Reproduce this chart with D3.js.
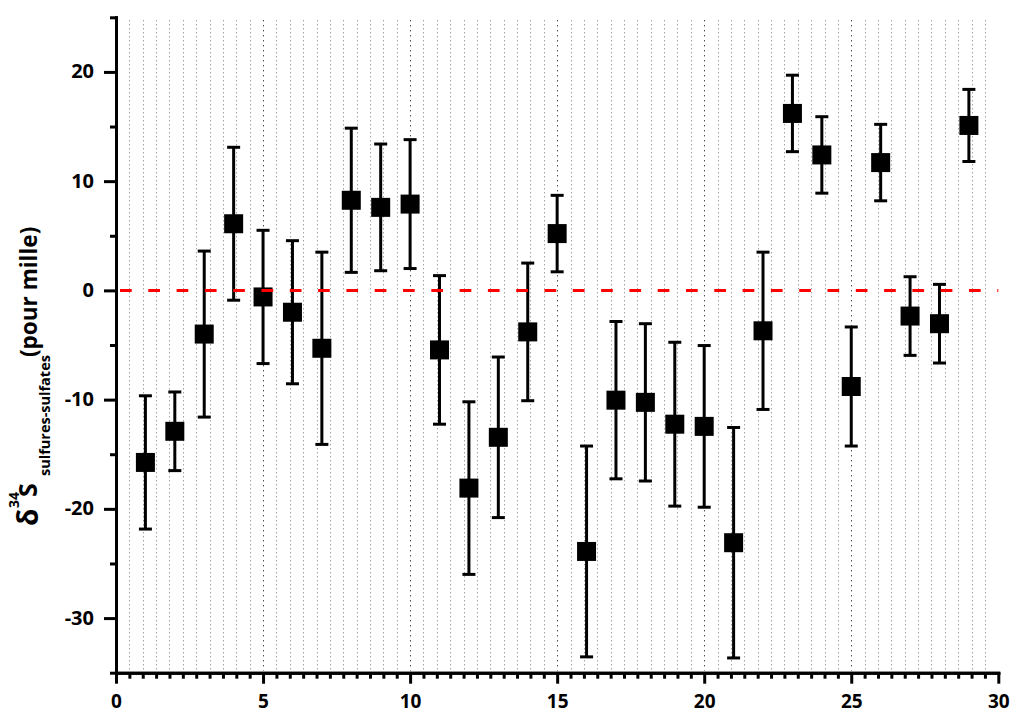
<!DOCTYPE html>
<html>
<head>
<meta charset="utf-8">
<script src="https://cdn.jsdelivr.net/npm/d3@7"></script>
<style>
  html, body { margin: 0; padding: 0; background: #fff; }
  text { font-family: "Open Sans", "Liberation Sans", sans-serif; font-weight: bold; }
</style>
</head>
<body>
<script>
// ---- data ----
const samples = [1,2,3,4,5,6,7,8,9,10,11,12,13,14,15,16,17,18,19,20,21,22,23,24,25,26,27,28,29];
const delta34S = [-15.75,-12.9,-4.0,6.1,-0.6,-2.0,-5.3,8.25,7.6,7.9,-5.45,-18.1,-13.45,-3.8,5.2,-23.9,-10.05,-10.25,-12.25,-12.45,-23.1,-3.7,16.2,12.4,-8.8,11.7,-2.35,-3.05,15.1];
const errors = [6.1,3.6,7.6,7.0,6.1,6.55,8.8,6.6,5.8,5.9,6.8,7.9,7.35,6.3,3.5,9.65,7.2,7.2,7.5,7.4,10.55,7.2,3.5,3.5,5.45,3.5,3.6,3.6,3.3];
const referenceLevel = [0];
const xTickLabels = [0,5,10,15,20,25,30];
const yTickLabels = [-30,-20,-10,0,10,20];
const xDomain = [0,30];
const yDomain = [-35,25];

// ---- layout ----
const W = 1011, H = 713;
const plot = { left: 116, right: 998.3, top: 17.3, bottom: 672.7 };

const svg = d3.select("body").append("svg").attr("width", W).attr("height", H);

const x = d3.scaleLinear().domain(xDomain).range([plot.left, plot.right]);
const y = d3.scaleLinear().domain(yDomain).range([plot.bottom, plot.top]);

// minor tick positions (10 minor ticks between majors on x, 1 on y)
const xMinor = d3.range(1, 66).map(k => k * 5 / 11).filter((v, i) => (i + 1) % 11 !== 0);
const yMinor = d3.range(-35, 26, 5).filter(v => v % 10 !== 0);

// ---- vertical dotted grid ----
const grid = svg.append("g");
grid.selectAll("line.minor").data(xMinor).join("line")
  .attr("class", "minor")
  .attr("x1", d => Math.round(x(d)) + 0.5).attr("x2", d => Math.round(x(d)) + 0.5)
  .attr("y1", y(25) + 3).attr("y2", y(-35) - 2)
  .attr("stroke", "#7a7a7a").attr("stroke-width", 1).attr("stroke-dasharray", "1,3");
grid.selectAll("line.major").data(xTickLabels.filter(v => v > 0 && v < 30)).join("line")
  .attr("class", "major")
  .attr("x1", d => Math.round(x(d)) + 0.5).attr("x2", d => Math.round(x(d)) + 0.5)
  .attr("y1", y(25) + 3).attr("y2", y(-35) - 2)
  .attr("stroke", "#000").attr("stroke-width", 1).attr("stroke-dasharray", "1,4");

// ---- error bars ----
const pts = samples.map((s, i) => ({ s, v: delta34S[i], e: errors[i] }));
const eb = svg.append("g").attr("stroke", "#000").attr("stroke-width", 3);
eb.selectAll("line.bar").data(pts).join("line")
  .attr("x1", d => x(d.s)).attr("x2", d => x(d.s))
  .attr("y1", d => y(d.v + d.e)).attr("y2", d => y(d.v - d.e));
eb.selectAll("line.capT").data(pts).join("line")
  .attr("x1", d => x(d.s) - 6.5).attr("x2", d => x(d.s) + 6.5)
  .attr("y1", d => y(d.v + d.e)).attr("y2", d => y(d.v + d.e));
eb.selectAll("line.capB").data(pts).join("line")
  .attr("x1", d => x(d.s) - 6.5).attr("x2", d => x(d.s) + 6.5)
  .attr("y1", d => y(d.v - d.e)).attr("y2", d => y(d.v - d.e));

// ---- square markers ----
const sz = 19;
svg.append("g").selectAll("rect").data(pts).join("rect")
  .attr("x", d => x(d.s) - sz / 2).attr("y", d => y(d.v) - sz / 2)
  .attr("width", sz).attr("height", sz).attr("fill", "#000");

// ---- red dashed reference line ----
svg.append("g").selectAll("line").data(referenceLevel).join("line")
  .attr("x1", x(xDomain[0])).attr("x2", x(xDomain[1]))
  .attr("y1", d => y(d)).attr("y2", d => y(d))
  .attr("stroke", "#ff0000").attr("stroke-width", 3)
  .attr("stroke-dasharray", "11.7,16.6").attr("stroke-dashoffset", -4);

// ---- axes ----
function styleAxis(g) {
  g.select(".domain").attr("stroke", "#000").attr("stroke-width", 3);
  g.selectAll(".tick line").attr("stroke", "#000").attr("stroke-width", 3);
}
const fmt = d => String(d);
// y minor
svg.append("g").attr("transform", `translate(${plot.left},0)`)
  .call(d3.axisLeft(y).tickValues(yMinor).tickSize(6).tickSizeOuter(0).tickFormat(""))
  .call(styleAxis);
// y major
const yAx = svg.append("g").attr("transform", `translate(${plot.left},0)`)
  .call(d3.axisLeft(y).tickValues(yTickLabels).tickFormat(fmt).tickSize(12).tickSizeOuter(0).tickPadding(10))
  .call(styleAxis);
yAx.selectAll(".tick text").attr("font-size", 20).attr("fill", "#000")
  .attr("font-family", "'Open Sans', sans-serif").attr("font-weight", "bold").attr("dy", "0.3em");
// x minor
svg.append("g").attr("transform", `translate(0,${plot.bottom})`)
  .call(d3.axisBottom(x).tickValues(xMinor).tickSize(6).tickSizeOuter(0).tickFormat(""))
  .call(styleAxis);
// x major
const xAx = svg.append("g").attr("transform", `translate(0,${plot.bottom})`)
  .call(d3.axisBottom(x).tickValues(xTickLabels).tickFormat(fmt).tickSize(11).tickSizeOuter(0).tickPadding(10))
  .call(styleAxis);
xAx.selectAll(".tick text").attr("font-size", 19).attr("fill", "#000")
  .attr("font-family", "'Open Sans', sans-serif").attr("font-weight", "bold")
  .attr("dy", null).attr("y", 35.5);
svg.selectAll(".domain").attr("stroke-linecap", "square");

// ---- y axis title ----
const title = svg.append("text").attr("transform", "rotate(-90)").attr("fill", "#000");
title.append("tspan").attr("x", -526).attr("y", 38).attr("font-size", 28).text("δ");
title.append("tspan").attr("x", -508).attr("y", 19).attr("font-size", 14).text("34");
title.append("tspan").attr("x", -497).attr("y", 37).attr("font-size", 25).text("S");
title.append("tspan").attr("x", -476).attr("y", 50).attr("font-size", 14.5).text("sulfures-sulfates");
title.append("tspan").attr("x", -357).attr("y", 37).attr("font-size", 22.5).text("(pour mille)");
</script>
</body>
</html>
